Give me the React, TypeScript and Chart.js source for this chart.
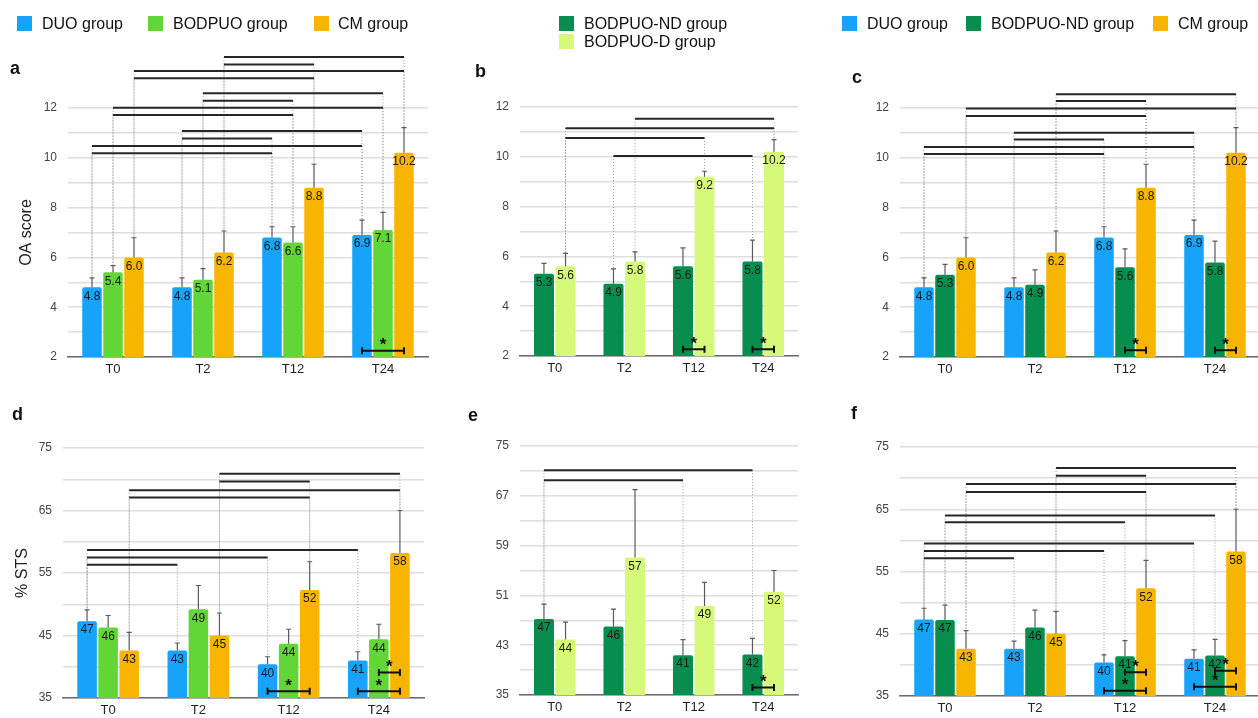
import React, { useEffect, useRef } from "react";
import { Chart, registerables } from "chart.js";
Chart.register(...registerables);

const FONT = "'Liberation Sans', Arial, Helvetica, sans-serif";

// ---------- data ----------
const timepoints = ["T0", "T2", "T12", "T24"];

// OA score (panels a, b, c)
const oaDUO = [4.8, 4.8, 6.8, 6.9];
const oaDUOErrTop = [5.18, 5.18, 7.23, 7.5];
const oaBODPUO = [5.4, 5.1, 6.6, 7.1];
const oaBODPUOErrTop = [5.67, 5.55, 7.23, 7.81];
const oaCM = [6.0, 6.2, 8.8, 10.2];
const oaCMErrTop = [6.79, 7.06, 9.74, 11.21];
const oaND = [5.3, 4.9, 5.6, 5.8];
const oaNDErrTop = [5.72, 5.5, 6.34, 6.65];
const oaD = [5.6, 5.8, 9.2, 10.2];
const oaDErrTop = [6.12, 6.18, 9.42, 10.69];

// % STS (panels d, e, f)
const stsDUO = [47.3, 42.6, 40.4, 41.0];
const stsDUOErrTop = [49.1, 43.8, 41.6, 42.4];
const stsBODPUO = [46.3, 49.2, 43.7, 44.4];
const stsBODPUOErrTop = [48.2, 53.0, 46.0, 46.8];
const stsCM = [42.6, 45.0, 52.3, 58.2];
const stsCMErrTop = [45.5, 48.6, 56.8, 65.0];
const stsND = [47.2, 46.0, 41.4, 41.5];
const stsNDErrTop = [49.6, 48.8, 43.9, 44.1];
const stsD = [43.9, 57.1, 49.3, 51.6];
const stsDErrTop = [46.7, 68.0, 53.1, 55.0];

// significance brackets: [timeA, seriesA, timeB, seriesB, yValue]
const bracketsA = [
  [1, 2, 3, 2, 14.05], [1, 2, 2, 2, 13.75], [0, 2, 3, 2, 13.49], [0, 2, 2, 2, 13.19],
  [1, 1, 3, 1, 12.59], [1, 1, 2, 1, 12.29], [0, 1, 3, 1, 12.01], [0, 1, 2, 1, 11.72],
  [1, 0, 3, 0, 11.08], [1, 0, 2, 0, 10.78], [0, 0, 3, 0, 10.47], [0, 0, 2, 0, 10.18],
];
const bracketsB = [
  [1, 1, 3, 1, 11.53], [0, 1, 3, 1, 11.15], [0, 1, 2, 1, 10.76], [1, 0, 3, 0, 10.03],
];
const bracketsC = [
  [1, 2, 3, 2, 12.55], [1, 2, 2, 2, 12.28], [0, 2, 3, 2, 11.98], [0, 2, 2, 2, 11.68],
  [1, 0, 3, 0, 11.01], [1, 0, 2, 0, 10.73], [0, 0, 3, 0, 10.43], [0, 0, 2, 0, 10.15],
];
const bracketsD = [
  [1, 2, 3, 2, 70.88], [1, 2, 2, 2, 69.65], [0, 2, 3, 2, 68.26], [0, 2, 2, 2, 67.08],
  [0, 0, 3, 0, 58.69], [0, 0, 2, 0, 57.5], [0, 0, 1, 0, 56.33],
];
const bracketsE = [[0, 0, 3, 0, 71.1], [0, 0, 2, 0, 69.5]];
const bracketsF = [
  [1, 2, 3, 2, 71.63], [1, 2, 2, 2, 70.4], [0, 2, 3, 2, 69.06], [0, 2, 2, 2, 67.78],
  [0, 1, 3, 1, 63.99], [0, 1, 2, 1, 62.9],
  [0, 0, 3, 0, 59.5], [0, 0, 2, 0, 58.3], [0, 0, 1, 0, 57.14],
];

// between-group stars: [time, seriesA, seriesB, yValue]
const starsA = [[3, 0, 2, 2.25]];
const starsB = [[2, 0, 1, 2.27], [3, 0, 1, 2.27]];
const starsC = [[2, 1, 2, 2.27], [3, 1, 2, 2.27]];
const starsD = [[2, 0, 2, 36.1], [3, 0, 2, 36.1], [3, 1, 2, 39.1]];
const starsE = [[3, 0, 1, 36.2]];
const starsF = [[2, 0, 2, 35.85], [2, 1, 2, 38.8], [3, 0, 2, 36.5], [3, 1, 2, 39.06]];

// ---------- styles ----------
const C_DUO = "#17a3fb";
const C_BOD = "#62d637";
const C_CM = "#f7b500";
const C_ND = "#078e4f";
const C_D = "#d7f97a";

type Series = { label: string; data: number[]; err: number[]; color: string };

const annotPlugin = {
  id: "annot",
  afterDatasetsDraw(chart: any, _args: any, opts: any) {
    const ctx = chart.ctx;
    const ys = chart.scales.y;
    const series: Series[] = opts.series;
    const decimals: number = opts.decimals;
    const errPx = (d: number, i: number) => ys.getPixelForValue(series[d].err[i]);
    const barX = (d: number, i: number) => chart.getDatasetMeta(d).data[i].x;
    ctx.save();
    // dotted connectors
    ctx.strokeStyle = "#9a9a9a";
    ctx.lineWidth = 1;
    ctx.setLineDash([1, 2]);
    (opts.brackets as number[][]).forEach(([c1, d1, c2, d2, v]) => {
      const yy = ys.getPixelForValue(v);
      [[c1, d1], [c2, d2]].forEach(([c, d]) => {
        const x = barX(d, c);
        ctx.beginPath();
        ctx.moveTo(x, yy);
        ctx.lineTo(x, errPx(d, c));
        ctx.stroke();
      });
    });
    ctx.setLineDash([]);
    // error bars + value labels
    series.forEach((s, d) => {
      const meta = chart.getDatasetMeta(d);
      meta.data.forEach((bar: any, i: number) => {
        const x = bar.x;
        const top = bar.y;
        const et = errPx(d, i);
        ctx.strokeStyle = "#5a5a5a";
        ctx.lineWidth = 1.2;
        ctx.beginPath();
        ctx.moveTo(x, top);
        ctx.lineTo(x, et);
        ctx.moveTo(x - 2.5, et);
        ctx.lineTo(x + 2.5, et);
        ctx.stroke();
        ctx.fillStyle = "#1a1a1a";
        ctx.font = `12px ${FONT}`;
        ctx.textAlign = "center";
        ctx.textBaseline = "middle";
        const txt = decimals > 0 ? s.data[i].toFixed(decimals) : String(Math.round(s.data[i]));
        ctx.fillText(txt, x, top + 9);
      });
    });
    // brackets
    ctx.strokeStyle = "#262626";
    ctx.lineWidth = 2;
    (opts.brackets as number[][]).forEach(([c1, d1, c2, d2, v]) => {
      const yy = ys.getPixelForValue(v);
      ctx.beginPath();
      ctx.moveTo(barX(d1, c1), yy);
      ctx.lineTo(barX(d2, c2), yy);
      ctx.stroke();
    });
    // stars
    (opts.stars as number[][]).forEach(([c, d1, d2, v]) => {
      const yy = ys.getPixelForValue(v);
      const x1 = barX(d1, c);
      const x2 = barX(d2, c);
      ctx.strokeStyle = "#111";
      ctx.lineWidth = 2;
      ctx.beginPath();
      ctx.moveTo(x1, yy);
      ctx.lineTo(x2, yy);
      ctx.moveTo(x1, yy - 3.5);
      ctx.lineTo(x1, yy + 3.5);
      ctx.moveTo(x2, yy - 3.5);
      ctx.lineTo(x2, yy + 3.5);
      ctx.stroke();
      ctx.fillStyle = "#111";
      ctx.font = `bold 17px ${FONT}`;
      ctx.textAlign = "center";
      ctx.textBaseline = "middle";
      ctx.fillText("*", (x1 + x2) / 2, yy - 5);
    });
    ctx.restore();
  },
};

type PanelProps = {
  left: number; top: number; width: number; height: number;
  series: Series[]; yMin: number; yMax: number; step: number; labelEvery: number;
  brackets: number[][]; stars: number[][]; decimals: number;
  padTop: number; padRight: number; yWidth: number; xHeight: number;
  yTitle?: string; titlePad?: number; catPct: number; barPct: number;
};

function Panel(p: PanelProps) {
  const ref = useRef<HTMLCanvasElement | null>(null);
  useEffect(() => {
    if (!ref.current) return;
    const chart = new Chart(ref.current, {
      type: "bar",
      data: {
        labels: timepoints,
        datasets: p.series.map((s) => ({
          label: s.label,
          data: s.data,
          backgroundColor: s.color,
          borderWidth: 0,
          borderRadius: { topLeft: 2, topRight: 2, bottomLeft: 0, bottomRight: 0 },
          borderSkipped: "start",
          categoryPercentage: p.catPct,
          barPercentage: p.barPct,
        })),
      },
      options: {
        responsive: false,
        animation: false,
        devicePixelRatio: 1,
        layout: { padding: { top: p.padTop, right: p.padRight, left: 0, bottom: 0 } },
        plugins: {
          legend: { display: false },
          tooltip: { enabled: false },
          annot: { series: p.series, brackets: p.brackets, stars: p.stars, decimals: p.decimals },
        } as any,
        scales: {
          x: {
            grid: { display: false, drawTicks: false },
            border: { display: true, color: "#6a6a6a", width: 1.5 },
            ticks: { color: "#222", font: { family: FONT, size: 13 }, padding: 5 },
            afterFit: (s: any) => { s.height = p.xHeight; },
          },
          y: {
            min: p.yMin,
            max: p.yMax,
            grid: { color: "#dedede", lineWidth: 1.5, drawTicks: false },
            border: { display: false },
            ticks: {
              stepSize: p.step,
              color: "#444",
              font: { family: FONT, size: 12 },
              padding: 11,
              callback: (v: any) => (Math.round((Number(v) - p.yMin) / p.step) % p.labelEvery === 0 ? String(v) : ""),
            },
            title: p.yTitle
              ? { display: true, text: p.yTitle, color: "#222", font: { family: FONT, size: 16 }, padding: { top: p.titlePad || 0, bottom: 0 } }
              : { display: false },
            afterFit: (s: any) => { s.width = p.yWidth; },
          },
        },
      },
      plugins: [annotPlugin],
    } as any);
    return () => chart.destroy();
  }, []);
  return (
    <canvas
      ref={ref}
      width={p.width}
      height={p.height}
      style={{ position: "absolute", left: p.left, top: p.top, width: p.width, height: p.height }}
    />
  );
}

function LegendItem({ x, tx, y, color, text }: { x: number; tx: number; y: number; color: string; text: string }) {
  return (
    <>
      <div style={{ position: "absolute", left: x, top: y, width: 15, height: 15, background: color }} />
      <div style={{ position: "absolute", left: tx, top: y - 2, fontSize: 16, lineHeight: "19px", color: "#111", whiteSpace: "nowrap" }}>{text}</div>
    </>
  );
}

function Letter({ x, cy, t }: { x: number; cy: number; t: string }) {
  return (
    <div style={{ position: "absolute", left: x, top: cy - 11, fontSize: 18, lineHeight: "22px", fontWeight: "bold", color: "#111" }}>{t}</div>
  );
}

export default function App() {
  const sA: Series[] = [
    { label: "DUO group", data: oaDUO, err: oaDUOErrTop, color: C_DUO },
    { label: "BODPUO group", data: oaBODPUO, err: oaBODPUOErrTop, color: C_BOD },
    { label: "CM group", data: oaCM, err: oaCMErrTop, color: C_CM },
  ];
  const sB: Series[] = [
    { label: "BODPUO-ND group", data: oaND, err: oaNDErrTop, color: C_ND },
    { label: "BODPUO-D group", data: oaD, err: oaDErrTop, color: C_D },
  ];
  const sC: Series[] = [
    { label: "DUO group", data: oaDUO, err: oaDUOErrTop, color: C_DUO },
    { label: "BODPUO-ND group", data: oaND, err: oaNDErrTop, color: C_ND },
    { label: "CM group", data: oaCM, err: oaCMErrTop, color: C_CM },
  ];
  const sD: Series[] = [
    { label: "DUO group", data: stsDUO, err: stsDUOErrTop, color: C_DUO },
    { label: "BODPUO group", data: stsBODPUO, err: stsBODPUOErrTop, color: C_BOD },
    { label: "CM group", data: stsCM, err: stsCMErrTop, color: C_CM },
  ];
  const sE: Series[] = [
    { label: "BODPUO-ND group", data: stsND, err: stsNDErrTop, color: C_ND },
    { label: "BODPUO-D group", data: stsD, err: stsDErrTop, color: C_D },
  ];
  const sF: Series[] = [
    { label: "DUO group", data: stsDUO, err: stsDUOErrTop, color: C_DUO },
    { label: "BODPUO-ND group", data: stsND, err: stsNDErrTop, color: C_ND },
    { label: "CM group", data: stsCM, err: stsCMErrTop, color: C_CM },
  ];
  return (
    <div style={{ position: "fixed", left: 0, top: 0, width: 1258, height: 718, overflow: "hidden", background: "#fff", fontFamily: FONT }}>
      <Panel left={0} top={0} width={440} height={385} series={sA} yMin={2} yMax={12} step={1} labelEvery={2}
        brackets={bracketsA} stars={starsA} decimals={1} padTop={108} padRight={12} yWidth={68} xHeight={28}
        yTitle="OA score" titlePad={17} catPct={0.7} barPct={0.93} />
      <Panel left={440} top={0} width={400} height={385} series={sB} yMin={2} yMax={12} step={1} labelEvery={2}
        brackets={bracketsB} stars={starsB} decimals={1} padTop={107} padRight={42} yWidth={80} xHeight={29}
        catPct={0.62} barPct={0.93} />
      <Panel left={840} top={0} width={420} height={385} series={sC} yMin={2} yMax={12} step={1} labelEvery={2}
        brackets={bracketsC} stars={starsC} decimals={1} padTop={108} padRight={0} yWidth={60} xHeight={28}
        catPct={0.7} barPct={0.93} />
      <Panel left={0} top={385} width={440} height={333} series={sD} yMin={35} yMax={75} step={5} labelEvery={2}
        brackets={bracketsD} stars={starsD} decimals={0} padTop={63} padRight={16} yWidth={63} xHeight={20}
        yTitle="% STS" titlePad={13} catPct={0.7} barPct={0.93} />
      <Panel left={440} top={385} width={400} height={333} series={sE} yMin={35} yMax={75} step={4} labelEvery={2}
        brackets={bracketsE} stars={starsE} decimals={0} padTop={61} padRight={42} yWidth={80} xHeight={23}
        catPct={0.62} barPct={0.93} />
      <Panel left={840} top={385} width={420} height={333} series={sF} yMin={35} yMax={75} step={5} labelEvery={2}
        brackets={bracketsF} stars={starsF} decimals={0} padTop={62} padRight={0} yWidth={60} xHeight={22}
        catPct={0.7} barPct={0.93} />

      <LegendItem x={17} tx={42} y={16} color={C_DUO} text="DUO group" />
      <LegendItem x={148} tx={173} y={16} color={C_BOD} text="BODPUO group" />
      <LegendItem x={314} tx={338} y={16} color={C_CM} text="CM group" />

      <LegendItem x={559} tx={584} y={16} color={C_ND} text="BODPUO-ND group" />
      <LegendItem x={559} tx={584} y={34} color={C_D} text="BODPUO-D group" />

      <LegendItem x={842} tx={867} y={16} color={C_DUO} text="DUO group" />
      <LegendItem x={966} tx={991} y={16} color={C_ND} text="BODPUO-ND group" />
      <LegendItem x={1153} tx={1178} y={16} color={C_CM} text="CM group" />

      <Letter x={10} cy={68} t="a" />
      <Letter x={475} cy={71} t="b" />
      <Letter x={852} cy={77} t="c" />
      <Letter x={12} cy={414} t="d" />
      <Letter x={468} cy={415} t="e" />
      <Letter x={851} cy={413} t="f" />
    </div>
  );
}
